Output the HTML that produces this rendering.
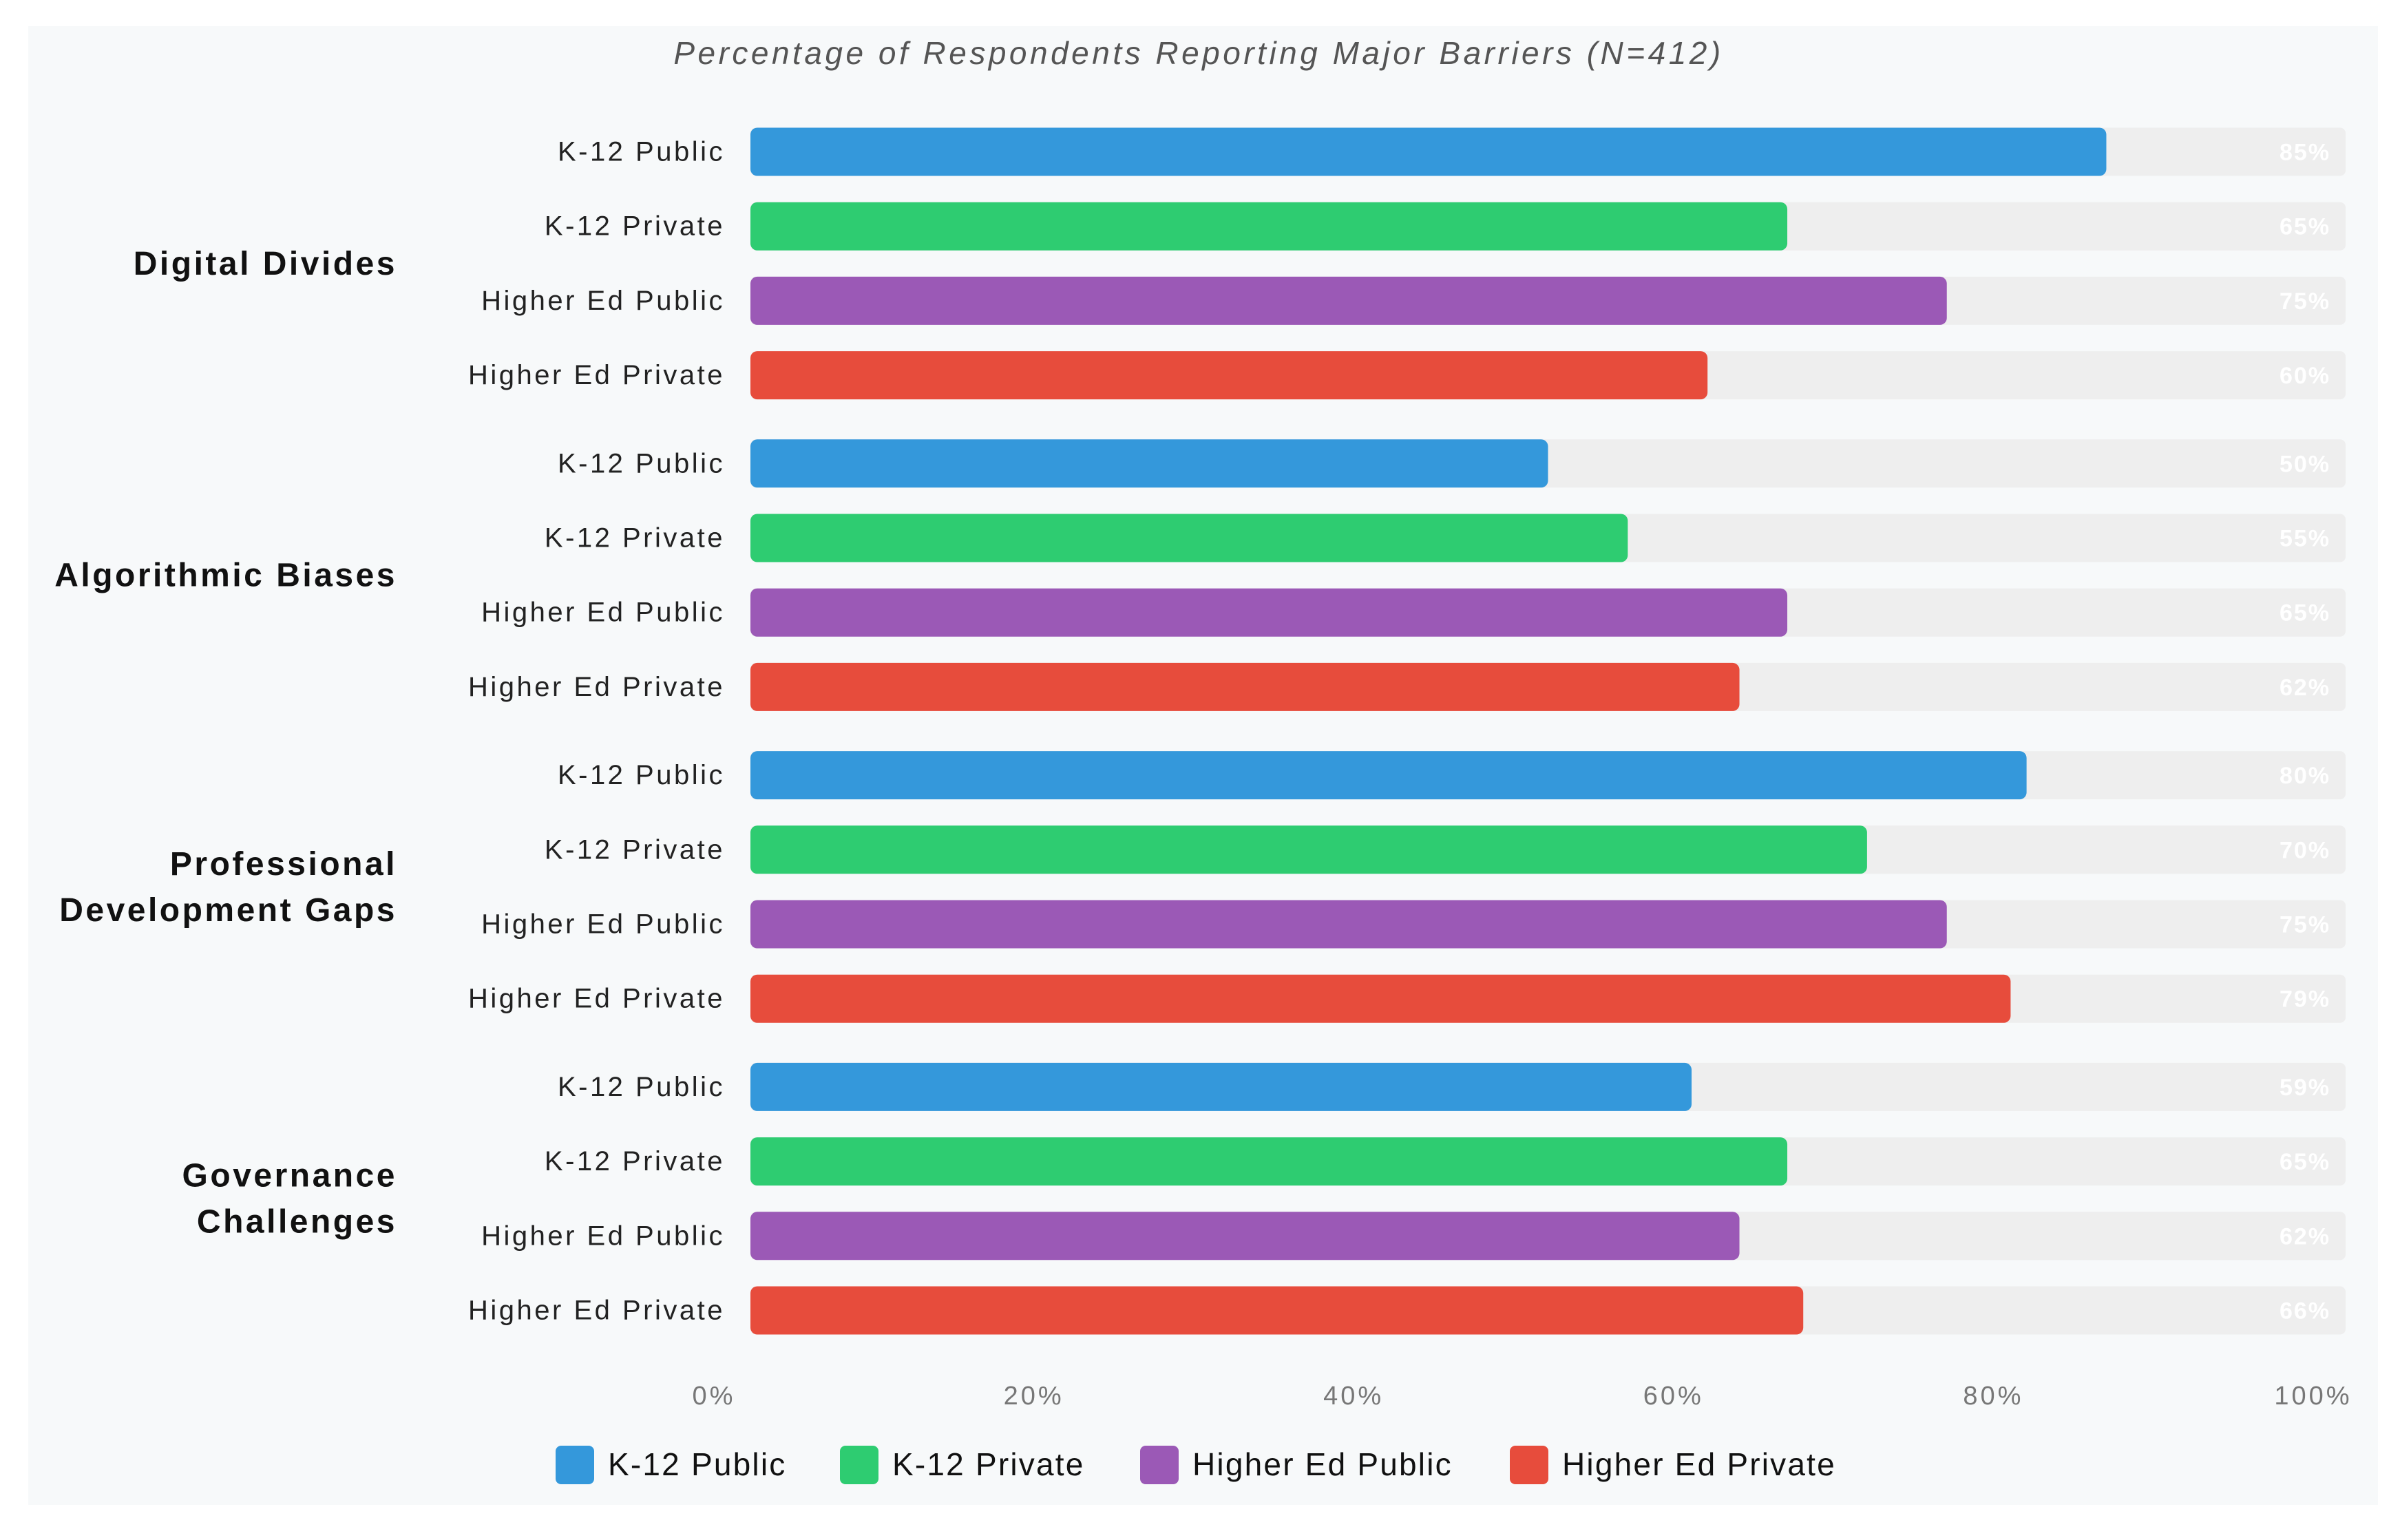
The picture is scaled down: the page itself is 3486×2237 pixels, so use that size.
<!DOCTYPE html>
<html><head><meta charset="utf-8"><style>
html,body{margin:0;padding:0;background:#fff;}
svg{display:block;font-family:"Liberation Sans",Arial,sans-serif;}
</style></head><body>
<svg id="chart" width="3486" height="2237" viewBox="0 0 3486 2237" xmlns="http://www.w3.org/2000/svg">
<rect x="41" y="38" width="3413" height="2148" fill="#f7f9fa"/>
<text x="1741" y="93" text-anchor="middle" font-size="46" letter-spacing="4.5" font-style="italic" fill="#555">Percentage of Respondents Reporting Major Barriers (N=412)</text>
<g id="bars"></g>
<g id="ticks"></g>
<g id="legend"></g>
</svg>
<script>
const groups = ["Digital Divides", "Algorithmic Biases", "Professional Development Gaps", "Governance Challenges"];
const series = ["K-12 Public", "K-12 Private", "Higher Ed Public", "Higher Ed Private"];
const colors = ["#3498db", "#2ecc71", "#9b59b6", "#e74c3c"];
const valuesDigital = [85, 65, 75, 60];
const valuesAlgorithmic = [50, 55, 65, 62];
const valuesProfessional = [80, 70, 75, 79];
const valuesGovernance = [59, 65, 62, 66];
const tickValues = [0, 20, 40, 60, 80, 100];
const tickLabels = ["0%", "20%", "40%", "60%", "80%", "100%"];

const allValues = [valuesDigital, valuesAlgorithmic, valuesProfessional, valuesGovernance];
const NS = "http://www.w3.org/2000/svg";
const X0 = 1090, X1 = 3407;
const xScale = v => X0 + (X1 - X0) * v / 100;
const tickX = v => 1037 + (3360 - 1037) * v / 100;
const rowPitch = 108.2, groupGap = 20, firstY = 220.5, barH = 70;
const yScale = (g, s) => firstY + (g * 4 + s) * rowPitch + g * groupGap;
function mk(tag, attrs, parent) {
  const e = document.createElementNS(NS, tag);
  for (const k in attrs) e.setAttribute(k, attrs[k]);
  parent.appendChild(e);
  return e;
}
const barsG = document.getElementById('bars');
groups.forEach((gName, g) => {
  const cy = (yScale(g, 0) + yScale(g, 3)) / 2;
  const words = gName === "Professional Development Gaps" ? ["Professional", "Development Gaps"] :
                gName === "Governance Challenges" ? ["Governance", "Challenges"] : [gName];
  const gl = mk('text', {x: 577, 'text-anchor': 'end', 'font-size': 48, 'letter-spacing': 3.5, 'font-weight': 'bold', fill: '#111'}, barsG);
  
  
  words.forEach((w, i) => {
    const t = mk('tspan', {x: 577, y: cy + 16 + (i - (words.length - 1) / 2) * 67}, gl);
    t.textContent = w;
  });
  series.forEach((sName, s) => {
    const cyr = yScale(g, s);
    const v = allValues[g][s];
    const lab = mk('text', {x: 1053, y: cyr + 13, 'text-anchor': 'end', 'font-size': 40, 'letter-spacing': 3.5, fill: '#222'}, barsG);
    
    
    lab.textContent = sName;
    const track = mk('rect', {x: X0, y: cyr - barH / 2, width: X1 - X0, height: barH, rx: 8, fill: '#eeeeee'}, barsG);
    
    
    const bar = mk('rect', {x: X0, y: cyr - barH / 2, width: xScale(v) - X0, height: barH, rx: 10, fill: colors[s]}, barsG);
    
    
    const vl = mk('text', {x: 3385, y: cyr + 12, 'text-anchor': 'end', 'font-size': 34, 'letter-spacing': 2, 'font-weight': 'bold', fill: '#fff'}, barsG);
    
    
    vl.textContent = v + "%";
  });
});
const ticksG = document.getElementById('ticks');
tickValues.forEach((t, i) => {
  const tl = mk('text', {x: tickX(t), y: 2040, 'text-anchor': 'middle', 'font-size': 38, 'letter-spacing': 4, fill: '#777'}, ticksG);
  
  
  tl.textContent = tickLabels[i];
});
const legendG = document.getElementById('legend');
const legX = [807, 1220, 1656, 2193];
series.forEach((sName, s) => {
  const sw = mk('rect', {x: legX[s], y: 2100, width: 56, height: 56, rx: 8, fill: colors[s]}, legendG);
  
  
  const lt = mk('text', {x: legX[s] + 76, y: 2143, 'font-size': 46, 'letter-spacing': 2.2, fill: '#111'}, legendG);
  
  
  lt.textContent = sName;
});
</script>
</body></html>
